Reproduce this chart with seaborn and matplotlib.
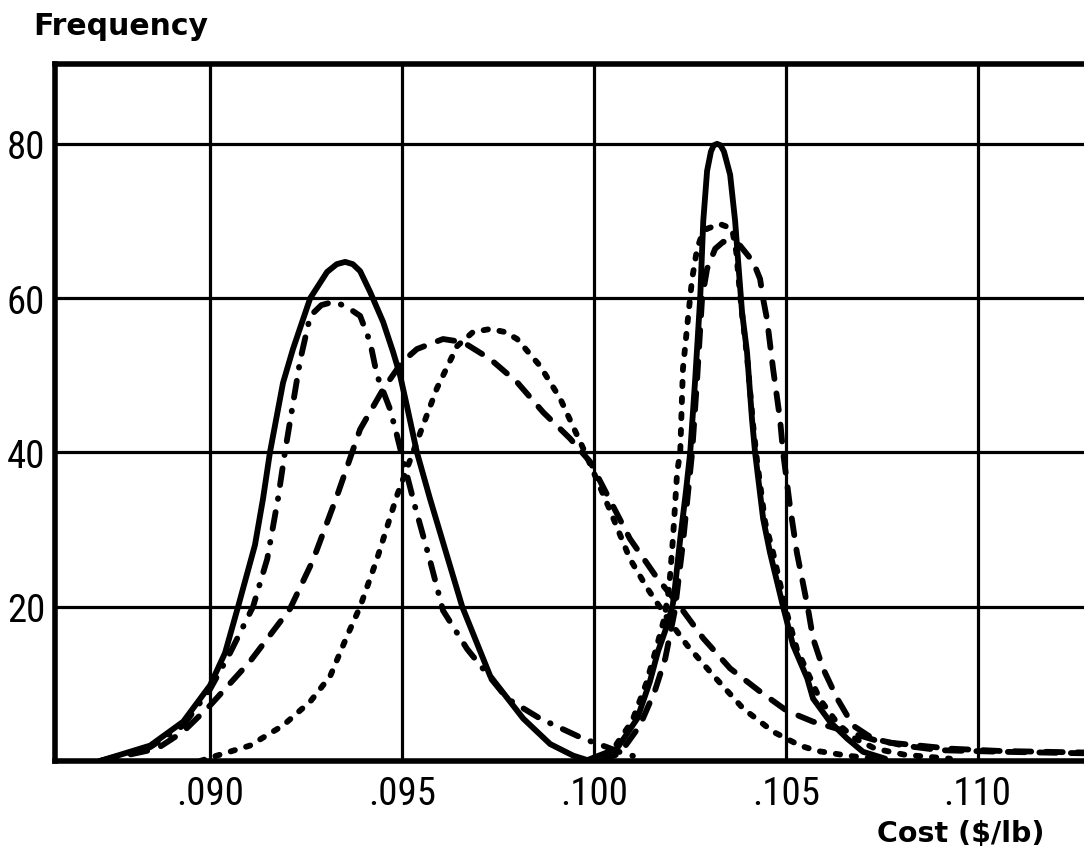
import matplotlib
matplotlib.use("Agg")
import matplotlib.pyplot as plt
import seaborn as sns
from matplotlib import font_manager as fm

# ---------------- data ----------------
x_ticks = [0.090, 0.095, 0.100, 0.105, 0.110]
x_tick_labels = [".090", ".095", ".100", ".105", ".110"]
y_ticks = [20, 40, 60, 80]
y_tick_labels = ["20", "40", "60", "80"]

# left group
a_x = [0.08713, 0.08844, 0.08930, 0.09000, 0.09039, 0.09073, 0.09117, 0.09138, 0.09156,
       0.09190, 0.09216, 0.09261, 0.09305, 0.09330, 0.09352, 0.09372, 0.09391, 0.09417,
       0.09451, 0.09477, 0.09495, 0.09513, 0.09539, 0.09573, 0.09657, 0.09730, 0.09816,
       0.09886, 0.09946, 0.09990]
a_y = [0.0, 2.0, 5.1, 9.8, 14.0, 20.0, 28.0, 34.0, 40.0,
       49.0, 53.4, 60.0, 63.4, 64.4, 64.7, 64.4, 63.5, 60.8,
       56.9, 53.0, 50.0, 46.0, 40.0, 34.0, 20.0, 11.0, 5.5,
       2.2, 0.7, 0.0]

b_x = [0.08713, 0.08844, 0.08930, 0.09000, 0.09052, 0.09112, 0.09149, 0.09177, 0.09195,
       0.09235, 0.09261, 0.09290, 0.09320, 0.09352, 0.09391, 0.09417, 0.09435, 0.09469,
       0.09487, 0.09503, 0.09534, 0.09573, 0.09607, 0.09670, 0.09774, 0.09860, 0.09972,
       0.10034, 0.10081, 0.10133]
b_y = [0.0, 1.8, 4.6, 9.3, 14.0, 20.0, 26.2, 34.0, 40.0,
       52.0, 57.7, 59.1, 59.5, 59.0, 57.7, 54.3, 50.0, 45.6,
       42.2, 39.0, 33.0, 26.0, 19.5, 14.5, 8.1, 5.5, 2.9,
       1.8, 0.9, 0.3]

c_x = [0.08713, 0.08862, 0.08930, 0.09000, 0.09104, 0.09208, 0.09268, 0.09331, 0.09391,
       0.09451, 0.09500, 0.09539, 0.09607, 0.09659, 0.09730, 0.09800, 0.09868, 0.09938,
       0.09990, 0.10042, 0.10094, 0.10165, 0.10217, 0.10285, 0.10355, 0.10433, 0.10503,
       0.10571, 0.10660, 0.10746, 0.10928, 0.11058, 0.11277]
c_y = [0.0, 1.6, 3.8, 7.2, 12.9, 19.7, 26.0, 34.4, 43.0,
       48.2, 51.7, 53.4, 54.7, 54.3, 52.1, 49.1, 45.2, 41.8,
       38.8, 33.8, 28.8, 23.7, 20.5, 15.9, 12.0, 9.0, 6.5,
       5.1, 3.8, 2.5, 1.6, 1.3, 1.1]

d_x = [0.08974, 0.09018, 0.09104, 0.09190, 0.09261, 0.09313, 0.09357, 0.09391, 0.09435,
       0.09487, 0.09539, 0.09591, 0.09644, 0.09685, 0.09730, 0.09769, 0.09800, 0.09860,
       0.09912, 0.09977, 0.10042, 0.10094, 0.10139, 0.10193, 0.10243, 0.10311, 0.10389,
       0.10467, 0.10537, 0.10582, 0.10660, 0.10746]
d_y = [0.0, 0.7, 2.0, 4.6, 7.7, 11.0, 16.2, 20.0, 26.2,
       34.4, 41.4, 48.3, 53.8, 55.6, 56.0, 55.6, 54.7, 51.2,
       47.0, 40.0, 32.5, 26.2, 22.4, 18.4, 15.0, 11.1, 6.8,
       3.8, 2.0, 1.3, 0.7, 0.2]

# right group
e_x = [0.09977, 0.10060, 0.10113, 0.10146, 0.10167, 0.10191, 0.10206, 0.10211, 0.10225,
       0.10240, 0.10251, 0.10264, 0.10277, 0.10285, 0.10295, 0.10305, 0.10312, 0.10321,
       0.10330, 0.10339, 0.10355, 0.10368, 0.10376, 0.10386, 0.10399, 0.10412, 0.10420,
       0.10441, 0.10459, 0.10493, 0.10519, 0.10556, 0.10571, 0.10615, 0.10660, 0.10701,
       0.10759]
e_y = [0.0, 1.6, 5.5, 10.3, 14.2, 17.6, 20.4, 22.4, 28.8,
       35.0, 40.0, 49.5, 60.0, 70.0, 76.5, 79.0, 79.8, 80.0,
       79.8, 79.0, 76.0, 70.0, 64.7, 58.2, 53.0, 44.3, 40.0,
       31.4, 27.0, 20.0, 15.0, 10.7, 8.1, 5.1, 2.9, 1.2,
       0.3]

f_x = [0.09990, 0.10047, 0.10100, 0.10136, 0.10162, 0.10183, 0.10196, 0.10206, 0.10217,
       0.10225, 0.10232, 0.10245, 0.10256, 0.10269, 0.10280, 0.10295, 0.10329, 0.10360,
       0.10371, 0.10378, 0.10386, 0.10399, 0.10415, 0.10425, 0.10446, 0.10467, 0.10501,
       0.10529, 0.10566, 0.10589, 0.10636, 0.10681, 0.10733, 0.10811, 0.10928]
f_y = [0.0, 1.3, 5.2, 10.0, 14.5, 18.4, 22.4, 28.8, 37.5,
       40.0, 50.8, 57.3, 62.5, 66.4, 68.0, 69.0, 69.6, 69.0,
       66.0, 62.0, 58.0, 52.5, 43.5, 39.0, 31.0, 27.0, 19.5,
       14.5, 10.5, 8.0, 4.8, 2.9, 1.6, 0.8, 0.3]

g_x = [0.10016, 0.10068, 0.10120, 0.10159, 0.10186, 0.10211, 0.10232, 0.10256, 0.10269,
       0.10282, 0.10295, 0.10316, 0.10337, 0.10360, 0.10381, 0.10415, 0.10433, 0.10441,
       0.10451, 0.10467, 0.10485, 0.10493, 0.10511, 0.10529, 0.10545, 0.10558, 0.10571,
       0.10597, 0.10634, 0.10675, 0.10727, 0.10806, 0.10902, 0.11058, 0.11277]
g_y = [0.0, 1.0, 4.6, 9.1, 13.3, 19.5, 28.2, 40.0, 49.5,
       60.0, 63.8, 66.4, 67.3, 67.3, 66.8, 64.7, 62.5, 59.9,
       57.3, 50.8, 44.3, 40.0, 33.0, 27.0, 23.0, 19.7, 15.9,
       12.0, 8.1, 4.6, 2.9, 2.0, 1.4, 1.2, 1.0]

# ---------------- styling ----------------
sns.set_theme(style="white")
plt.rcParams["font.family"] = ["DejaVu Sans"]


def pick(fams):
    for f in fams:
        try:
            fm.findfont(fm.FontProperties(family=f), fallback_to_default=False)
            return f
        except Exception:
            pass
    return "DejaVu Sans"


narrow = pick(["Liberation Sans Narrow", "DejaVu Sans Condensed", "Roboto Condensed",
               "Liberation Sans"])

W, H = 1084, 854
fig = plt.figure(figsize=(W / 100, H / 100), dpi=100)
fig.patch.set_facecolor("white")
ax = fig.add_axes([55 / W, 1 - 762 / H, 1 - 55 / W, (762 - 65) / H])
ax.set_facecolor("white")

LW = 4.2
long_dash = (2.9, 2.5)
dotted = (0.75, 2.0)
dash_dot = (2.9, 2.3, 0.1, 2.3)

curves = [
    (a_x, a_y, None),
    (b_x, b_y, dash_dot),
    (c_x, c_y, long_dash),
    (d_x, d_y, dotted),
    (e_x, e_y, None),
    (f_x, f_y, dotted),
    (g_x, g_y, long_dash),
]
for xs, ys, dash in curves:
    sns.lineplot(x=xs, y=ys, ax=ax, color="black", linewidth=LW,
                 estimator=None, sort=False, legend=False)
    ln = ax.lines[-1]
    ln.set_zorder(3)
    ln.set_solid_capstyle("round")
    ln.set_solid_joinstyle("round")
    ln.set_dash_joinstyle("round")
    if dash is not None:
        ln.set_dashes(dash)
        ln.set_dash_capstyle("round")

ax.set_xlim(0.08596, 0.11277)
ax.set_ylim(0, 90.35)
ax.set_xticks(x_ticks)
ax.set_xticklabels(x_tick_labels)
ax.set_yticks(y_ticks)
ax.set_yticklabels(y_tick_labels)
ax.set_xlabel("")
ax.set_ylabel("")

ax.grid(True, color="black", linewidth=2.3)
ax.set_axisbelow(True)
ax.tick_params(axis="both", length=0)
ax.tick_params(axis="y", pad=7)
ax.tick_params(axis="x", pad=10)

tick_fp = fm.FontProperties(family=narrow, weight="normal", size=28)
for lbl in ax.get_xticklabels() + ax.get_yticklabels():
    lbl.set_fontproperties(tick_fp)
    lbl.set_color("black")

for side in ["left", "bottom", "top"]:
    ax.spines[side].set_visible(True)
    ax.spines[side].set_color("black")
    ax.spines[side].set_linewidth(4.0)
    ax.spines[side].set_zorder(4)
ax.spines["right"].set_visible(False)

fig.text(33 / W, 1 - 35 / H, "Frequency", fontsize=21.5, weight="bold",
         family="DejaVu Sans", ha="left", va="baseline", color="black")
fig.text(877 / W, 1 - 842 / H, "Cost ($/lb)", fontsize=20.5, weight="bold",
         family="DejaVu Sans", ha="left", va="baseline", color="black")

fig.savefig("out.png", dpi=100, facecolor="white")
